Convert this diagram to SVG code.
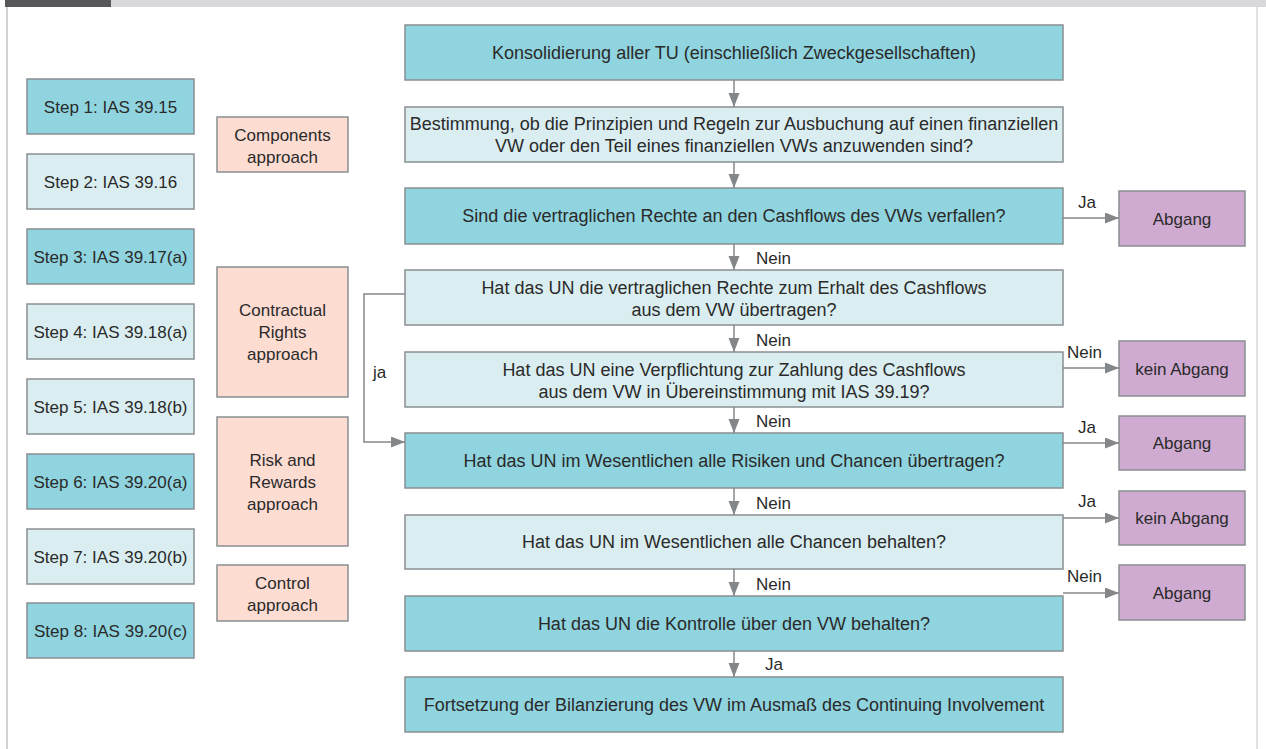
<svg xmlns="http://www.w3.org/2000/svg" width="1266" height="749" viewBox="0 0 1266 749">
<style>
  text { font-family: "Liberation Sans", Arial, sans-serif; fill: #2a2a2a; }
  .t { font-size: 18px; text-anchor: middle; }
  .s { font-size: 17px; text-anchor: middle; }
  .lbl { font-size: 17px; }
  .dark { fill: #8fd4de; stroke: #8a8f92; stroke-width: 1.5; }
  .light { fill: #daeef1; stroke: #8a8f92; stroke-width: 1.5; }
  .orange { fill: #fddcd2; stroke: #8a8f92; stroke-width: 1.5; }
  .purple { fill: #cfaad1; stroke: #8a8f92; stroke-width: 1.5; }
  .c { fill: none; stroke: #84878a; stroke-width: 1.5; }
</style>
<defs>
  <marker id="ah" markerUnits="userSpaceOnUse" markerWidth="15" markerHeight="12" refX="14" refY="5.5" orient="auto">
    <path d="M0,0 L14,5.5 L0,11 Z" fill="#84878a"/>
  </marker>
</defs>
<rect x="0" y="0" width="1266" height="749" fill="#ffffff"/>
<g id="frame">
  <rect x="5" y="0" width="106" height="7" fill="#58585a"/>
  <rect x="111" y="0" width="1155" height="7" fill="#d9d9db"/>
  <rect x="6" y="7" width="2" height="742" fill="#d3d3d5"/>
  <rect x="1256" y="7" width="2" height="742" fill="#e2e2e4"/>
</g>

<g id="step1"><rect class="dark" x="27" y="79" width="167" height="55"/><text class="s" x="110.5" y="112.5">Step 1: IAS 39.15</text></g>
<g id="step2"><rect class="light" x="27" y="154" width="167" height="55"/><text class="s" x="110.5" y="187.5">Step 2: IAS 39.16</text></g>
<g id="step3"><rect class="dark" x="27" y="229" width="167" height="55"/><text class="s" x="110.5" y="262.5">Step 3: IAS 39.17(a)</text></g>
<g id="step4"><rect class="light" x="27" y="304" width="167" height="55"/><text class="s" x="110.5" y="337.5">Step 4: IAS 39.18(a)</text></g>
<g id="step5"><rect class="light" x="27" y="379" width="167" height="55"/><text class="s" x="110.5" y="412.5">Step 5: IAS 39.18(b)</text></g>
<g id="step6"><rect class="dark" x="27" y="454" width="167" height="55"/><text class="s" x="110.5" y="487.5">Step 6: IAS 39.20(a)</text></g>
<g id="step7"><rect class="light" x="27" y="529" width="167" height="55"/><text class="s" x="110.5" y="562.5">Step 7: IAS 39.20(b)</text></g>
<g id="step8"><rect class="dark" x="27" y="603" width="167" height="55"/><text class="s" x="110.5" y="636.5">Step 8: IAS 39.20(c)</text></g>

<g id="components"><rect class="orange" x="217" y="117" width="131" height="55"/><text class="s" x="282.5" y="140.5">Components</text><text class="s" x="282.5" y="162.5">approach</text></g>
<g id="contractual"><rect class="orange" x="217" y="267" width="131" height="130"/><text class="s" x="282.5" y="316">Contractual</text><text class="s" x="282.5" y="338">Rights</text><text class="s" x="282.5" y="360">approach</text></g>
<g id="risk"><rect class="orange" x="217" y="417" width="131" height="129"/><text class="s" x="282.5" y="465.5">Risk and</text><text class="s" x="282.5" y="487.5">Rewards</text><text class="s" x="282.5" y="509.5">approach</text></g>
<g id="control"><rect class="orange" x="217" y="565" width="131" height="56"/><text class="s" x="282.5" y="589">Control</text><text class="s" x="282.5" y="611">approach</text></g>

<g id="box1"><rect class="dark" x="405" y="25" width="658" height="55"/><text class="t" x="734" y="59">Konsolidierung aller TU (einschließlich Zweckgesellschaften)</text></g>
<g id="box2"><rect class="light" x="405" y="107" width="658" height="55"/><text class="t" x="734" y="130">Bestimmung, ob die Prinzipien und Regeln zur Ausbuchung auf einen finanziellen</text><text class="t" x="734" y="152">VW oder den Teil eines finanziellen VWs anzuwenden sind?</text></g>
<g id="box3"><rect class="dark" x="405" y="188" width="658" height="56"/><text class="t" x="734" y="222">Sind die vertraglichen Rechte an den Cashflows des VWs verfallen?</text></g>
<g id="box4"><rect class="light" x="405" y="270" width="658" height="55"/><text class="t" x="734" y="294">Hat das UN die vertraglichen Rechte zum Erhalt des Cashflows</text><text class="t" x="734" y="316">aus dem VW übertragen?</text></g>
<g id="box5"><rect class="light" x="405" y="352" width="658" height="55"/><text class="t" x="734" y="376">Hat das UN eine Verpflichtung zur Zahlung des Cashflows</text><text class="t" x="734" y="398">aus dem VW in Übereinstimmung mit IAS 39.19?</text></g>
<g id="box6"><rect class="dark" x="405" y="433" width="658" height="55"/><text class="t" x="734" y="467">Hat das UN im Wesentlichen alle Risiken und Chancen übertragen?</text></g>
<g id="box7"><rect class="light" x="405" y="515" width="658" height="54"/><text class="t" x="734" y="548">Hat das UN im Wesentlichen alle Chancen behalten?</text></g>
<g id="box8"><rect class="dark" x="405" y="596" width="658" height="55"/><text class="t" x="734" y="630">Hat das UN die Kontrolle über den VW behalten?</text></g>
<g id="box9"><rect class="dark" x="405" y="677" width="658" height="55"/><text class="t" x="734" y="711">Fortsetzung der Bilanzierung des VW im Ausmaß des Continuing Involvement</text></g>

<g id="out1"><rect class="purple" x="1119" y="191" width="126" height="55"/><text class="s" x="1182" y="224.5">Abgang</text></g>
<g id="out2"><rect class="purple" x="1119" y="341" width="126" height="55"/><text class="s" x="1182" y="374.5">kein Abgang</text></g>
<g id="out3"><rect class="purple" x="1119" y="416" width="126" height="54"/><text class="s" x="1182" y="449">Abgang</text></g>
<g id="out4"><rect class="purple" x="1119" y="491" width="126" height="54"/><text class="s" x="1182" y="524">kein Abgang</text></g>
<g id="out5"><rect class="purple" x="1119" y="565" width="126" height="55"/><text class="s" x="1182" y="598.5">Abgang</text></g>

<g id="connectors">
  <line class="c" x1="734" y1="80" x2="734" y2="107" marker-end="url(#ah)"/>
  <line class="c" x1="734" y1="162" x2="734" y2="188" marker-end="url(#ah)"/>
  <line class="c" x1="734" y1="244" x2="734" y2="270" marker-end="url(#ah)"/>
  <line class="c" x1="734" y1="325" x2="734" y2="352" marker-end="url(#ah)"/>
  <line class="c" x1="734" y1="407" x2="734" y2="433" marker-end="url(#ah)"/>
  <line class="c" x1="734" y1="488" x2="734" y2="515" marker-end="url(#ah)"/>
  <line class="c" x1="734" y1="569" x2="734" y2="596" marker-end="url(#ah)"/>
  <line class="c" x1="734" y1="651" x2="734" y2="677" marker-end="url(#ah)"/>
  <line class="c" x1="1063" y1="218" x2="1119" y2="218" marker-end="url(#ah)"/>
  <line class="c" x1="1063" y1="368" x2="1119" y2="368" marker-end="url(#ah)"/>
  <line class="c" x1="1063" y1="443" x2="1119" y2="443" marker-end="url(#ah)"/>
  <line class="c" x1="1063" y1="518" x2="1119" y2="518" marker-end="url(#ah)"/>
  <line class="c" x1="1063" y1="593" x2="1119" y2="593" marker-end="url(#ah)"/>
  <polyline class="c" points="405,294 364,294 364,442 405,442" marker-end="url(#ah)"/>
  <text class="lbl" x="756" y="264">Nein</text>
  <text class="lbl" x="756" y="346">Nein</text>
  <text class="lbl" x="756" y="427">Nein</text>
  <text class="lbl" x="756" y="509">Nein</text>
  <text class="lbl" x="756" y="590">Nein</text>
  <text class="lbl" x="765" y="670">Ja</text>
  <text class="lbl" x="1078" y="208">Ja</text>
  <text class="lbl" x="1067" y="358">Nein</text>
  <text class="lbl" x="1078" y="433">Ja</text>
  <text class="lbl" x="1078" y="507">Ja</text>
  <text class="lbl" x="1067" y="582">Nein</text>
  <text class="lbl" x="373" y="378">ja</text>
</g>
</svg>
